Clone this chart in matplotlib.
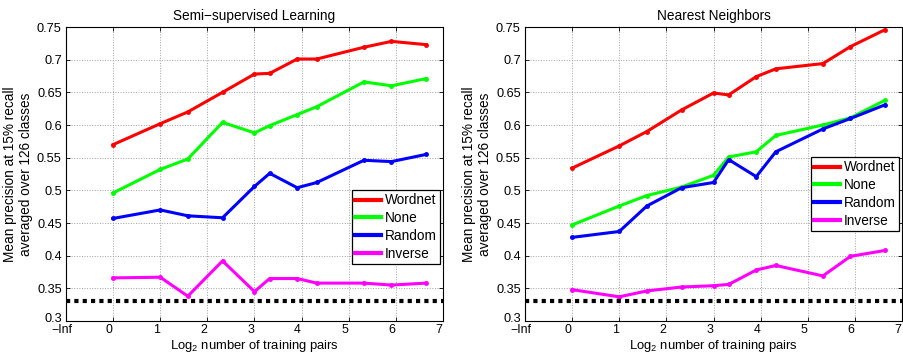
import numpy as np
import matplotlib
matplotlib.use("Agg")
import matplotlib.pyplot as plt
import matplotlib.transforms as mtransforms

plt.rcParams['font.family'] = ['Liberation Sans', 'DejaVu Sans']
plt.rcParams['mathtext.default'] = 'regular'
plt.rcParams['font.size'] = 9

# number of training pairs (plotted on a log2 axis)
n_pairs = [1, 2, 3, 5, 8, 10, 15, 20, 40, 60, 100]
chance = 0.33

# Semi-supervised learning
ssl_wordnet = [0.570, 0.602, 0.620, 0.650, 0.678, 0.679, 0.701, 0.701, 0.719, 0.728, 0.723]
ssl_none = [0.496, 0.532, 0.548, 0.604, 0.588, 0.599, 0.616, 0.628, 0.666, 0.660, 0.671]
ssl_random = [0.457, 0.470, 0.461, 0.458, 0.506, 0.526, 0.504, 0.512, 0.546, 0.544, 0.555]
ssl_inverse = [0.366, 0.367, 0.338, 0.392, 0.345, 0.365, 0.365, 0.358, 0.358, 0.355, 0.358]

# Nearest neighbors
nn_wordnet = [0.534, 0.568, 0.590, 0.623, 0.649, 0.646, 0.674, 0.686, 0.694, 0.720, 0.746]
nn_none = [0.447, 0.476, 0.492, 0.505, 0.523, 0.551, 0.559, 0.584, 0.600, 0.611, 0.638]
nn_random = [0.428, 0.437, 0.476, 0.504, 0.512, 0.547, 0.521, 0.559, 0.594, 0.610, 0.631]
nn_inverse = [0.348, 0.337, 0.346, 0.352, 0.354, 0.356, 0.378, 0.385, 0.369, 0.399, 0.408]

labels = ['Wordnet', 'None', 'Random', 'Inverse']
colors = ['#ff0000', '#00ff00', '#0000ff', '#ff00ff']
xticks = [-1, 0, 1, 2, 3, 4, 5, 6, 7]
xticklabels = ['\u2212Inf', '0', '1', '2', '3', '4', '5', '6', '7']
yticks = [0.3, 0.35, 0.4, 0.45, 0.5, 0.55, 0.6, 0.65, 0.7, 0.75]
yticklabels = ['0.3', '0.35', '0.4', '0.45', '0.5', '0.55', '0.6', '0.65', '0.7', '0.75']

W, H = 904, 355
fig = plt.figure(figsize=(W / 100, H / 100), dpi=100)


def make_panel(rect, title, series, legend_corner):
    ax = fig.add_axes(rect)
    x = np.log2(n_pairs)
    for vals, lab, c in zip(series, labels, colors):
        ax.plot(x, vals, color=c, lw=2.2, marker='.', ms=5, label=lab)
    ax.axhline(chance, color='k', lw=3, ls=(0, (1, 1)))
    ax.set_xlim(-1, 7)
    ax.set_ylim(0.3, 0.75)
    ax.set_xticks(xticks)
    ax.set_xticklabels(xticklabels)
    ax.set_yticks(yticks)
    ax.set_yticklabels(yticklabels)
    ax.tick_params(direction='in', length=3, width=0.6, top=True, right=True, labelsize=9.2)
    ax.tick_params(axis='x', pad=2, labelsize=8.9)
    ax.tick_params(axis='y', pad=3)
    # tick_params resets label transforms, so the offsets go on afterwards:
    # x labels sit a little left of their ticks, bottom y label lifted clear of -Inf
    shift = mtransforms.ScaledTranslation(-4 / 100, 0, fig.dpi_scale_trans)
    for t in ax.get_xticklabels():
        t.set_transform(t.get_transform() + shift)
    lift = mtransforms.ScaledTranslation(0, 3 / 100, fig.dpi_scale_trans)
    y0 = ax.get_yticklabels()[0]
    y0.set_transform(y0.get_transform() + lift)
    ax.grid(True, color='#a0a0a0', ls=':', lw=0.7)
    for s in ax.spines.values():
        s.set_linewidth(0.8)
    ax.set_title(title, fontsize=9.8, pad=5)
    ax.set_xlabel('Log$_2$ number of training pairs', fontsize=9.4, va='bottom')
    # x label pinned to the bottom edge of the figure
    ax.xaxis.set_label_coords(0.5, 0.5 / H,
                              transform=mtransforms.blended_transform_factory(ax.transAxes, fig.transFigure))
    ax.set_ylabel('Mean precision at 15% recall\naveraged over 126 classes', fontsize=9.8,
                  linespacing=1.2, labelpad=3)
    leg = ax.legend(loc='upper left', bbox_to_anchor=legend_corner, bbox_transform=fig.transFigure,
                    fancybox=False, framealpha=1, edgecolor='k',
                    handlelength=1.9, handletextpad=0.25, borderpad=0.25, labelspacing=0.28,
                    fontsize=9.8, borderaxespad=0)
    leg.get_frame().set_linewidth(0.9)
    for h in leg.get_lines():
        h.set_linewidth(3)
        h.set_marker('')
    return ax


make_panel([66 / W, 1 - 321 / H, 377 / W, 294 / H], 'Semi\u2212supervised Learning',
           [ssl_wordnet, ssl_none, ssl_random, ssl_inverse],
           (352 / W, 1 - 190 / H))
make_panel([525 / W, 1 - 321 / H, 377 / W, 294 / H], 'Nearest Neighbors',
           [nn_wordnet, nn_none, nn_random, nn_inverse],
           (811 / W, 1 - 157 / H))

fig.savefig('out.png', dpi=100)
